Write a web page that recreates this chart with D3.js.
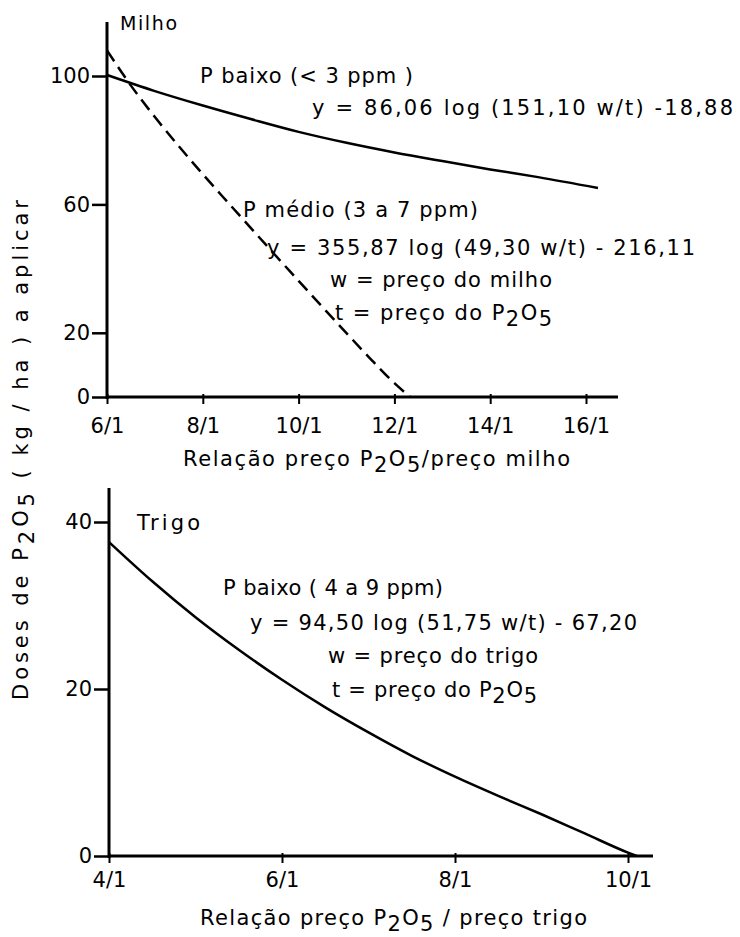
<!DOCTYPE html>
<html>
<head>
<meta charset="utf-8">
<script src="https://cdn.jsdelivr.net/npm/d3@7"></script>
<style>
  body { margin: 0; background: #fff; }
  text { font-family: 'DejaVu Sans', sans-serif; fill: #000; }
</style>
</head>
<body>
<script>
// milho, P baixo (< 3 ppm)
const milhoRatio = [6, 7, 8, 9, 10, 11, 12, 13, 14, 15, 16.25];
const milhoBaixo = [100.3, 95.3, 90.8, 86.6, 82.6, 79.2, 76.2, 73.5, 70.9, 68.5, 65.1];
// milho, P medio (3 a 7 ppm)
const medioRatio = [6, 6.5, 7, 7.5, 8, 8.5, 9, 9.5, 10, 10.5, 11, 11.5, 12, 12.33];
const milhoMedio = [108, 97, 87.2, 78.1, 69.4, 61, 52.7, 44.4, 36.2, 28, 19.9, 11.9, 4.3, 0];
// trigo, P baixo (4 a 9 ppm)
const trigoRatio = [4, 4.5, 5, 5.5, 6, 6.5, 7, 7.5, 8, 8.5, 9, 9.5, 10, 10.1];
const trigoBaixo = [37.6, 32.9, 28.6, 24.7, 21.1, 17.8, 14.8, 12.0, 9.5, 7.2, 5.0, 2.7, 0.4, 0];

const milhoXTicks = [6, 8, 10, 12, 14, 16];
const milhoYTicks = [0, 20, 60, 100];
const trigoXTicks = [4, 6, 8, 10];
const trigoYTicks = [0, 20, 40];

const svg = d3.select('body').append('svg')
  .attr('width', 740)
  .attr('height', 937);

// text with "_2" style subscripts, stretched to the width of the original lettering
function label(g, x, y, str, len, size) {
  const t = g.append('text')
    .attr('x', x).attr('y', y)
    .style('font-size', (size || 21) + 'px');
  if (len) t.attr('textLength', len).attr('lengthAdjust', 'spacing');
  const parts = str.split(/(_\d)/).filter(s => s.length);
  let low = false;
  parts.forEach(p => {
    const sub = p[0] === '_';
    const ts = t.append('tspan').text(sub ? p.slice(1) : p);
    if (sub && !low) { ts.attr('dy', 6); low = true; }
    else if (!sub && low) { ts.attr('dy', -6); low = false; }
  });
  return t;
}

function panel(cfg) {
  const x = d3.scaleLinear().domain(cfg.xDomain).range(cfg.xRange);
  const y = d3.scaleLinear().domain(cfg.yDomain).range(cfg.yRange);
  const g = svg.append('g');

  // axis lines
  g.append('line')
    .attr('x1', cfg.xRange[0]).attr('x2', cfg.xRange[0])
    .attr('y1', cfg.yTop).attr('y2', cfg.yRange[0] + 2)
    .attr('stroke', '#000').attr('stroke-width', 3);
  g.append('line')
    .attr('x1', cfg.xRange[0] - 1).attr('x2', cfg.xEnd)
    .attr('y1', cfg.yRange[0]).attr('y2', cfg.yRange[0])
    .attr('stroke', '#000').attr('stroke-width', 3);

  const xAxis = g.append('g')
    .attr('transform', `translate(0,${cfg.yRange[0]})`)
    .call(d3.axisBottom(x).tickValues(cfg.xTicks).tickSize(7).tickPadding(cfg.xPad)
      .tickFormat(d => d + '/1'));
  xAxis.select('.domain').remove();
  xAxis.selectAll('line').attr('y1', -3).attr('stroke-width', 2);
  xAxis.selectAll('text').style('font-size', '21px').attr('font-family', null);

  const yAxis = g.append('g')
    .attr('transform', `translate(${cfg.xRange[0]},0)`)
    .call(d3.axisLeft(y).tickValues(cfg.yTicks).tickSize(15).tickPadding(2));
  yAxis.select('.domain').remove();
  yAxis.selectAll('line').attr('stroke-width', 2.5);
  yAxis.selectAll('text').style('font-size', '21px').attr('font-family', null);

  const line = d3.line()
    .x(d => x(d[0]))
    .y(d => y(d[1]))
    .curve(d3.curveMonotoneX);

  cfg.series.forEach(s => {
    g.append('path')
      .attr('d', line(d3.zip(s.xs, s.ys)))
      .attr('fill', 'none')
      .attr('stroke', '#000')
      .attr('stroke-width', 2.5)
      .attr('stroke-dasharray', s.dash || null);
  });
  return g;
}

const topPanel = panel({
  xDomain: [6, 16], xRange: [107, 586], xEnd: 618,
  yDomain: [0, 100], yRange: [397, 76], yTop: 22,
  xTicks: milhoXTicks, yTicks: milhoYTicks, xPad: 14,
  series: [
    { xs: milhoRatio, ys: milhoBaixo },
    { xs: medioRatio, ys: milhoMedio, dash: '13,7' }
  ]
});
label(topPanel, 120, 30, 'Milho', 57, 19);
label(topPanel, 200, 83, 'P baixo (< 3 ppm )', 213);
label(topPanel, 312, 115, 'y = 86,06 log (151,10 w/t) -18,88', 421);
label(topPanel, 243, 217, 'P médio (3 a 7 ppm)', 235);
label(topPanel, 267, 255, 'y = 355,87 log (49,30 w/t) - 216,11', 428);
label(topPanel, 330, 287, 'w = preço do milho', 222);
label(topPanel, 335, 320, 't = preço do P_2O_5', 217);
label(topPanel, 183, 466, 'Relação preço P_2O_5/preço milho', 387);

const bottomPanel = panel({
  xDomain: [4, 10], xRange: [109, 628], xEnd: 653,
  yDomain: [0, 40], yRange: [856, 522], yTop: 488,
  xTicks: trigoXTicks, yTicks: trigoYTicks, xPad: 9,
  series: [
    { xs: trigoRatio, ys: trigoBaixo }
  ]
});
label(bottomPanel, 137, 530, 'Trigo', 63);
label(bottomPanel, 223, 595, 'P baixo ( 4 a 9 ppm)', 220);
label(bottomPanel, 250, 630, 'y = 94,50 log (51,75 w/t) - 67,20', 387);
label(bottomPanel, 328, 663, 'w = preço do trigo', 210);
label(bottomPanel, 332, 697, 't = preço do P_2O_5', 205);
label(bottomPanel, 200, 925, 'Relação preço P_2O_5 / preço trigo', 387);

// shared y title
const yTitle = svg.append('g').attr('transform', 'translate(28,450) rotate(-90)');
label(yTitle, -250, 0, 'Doses  de  P_2O_5  ( kg / ha )  a  aplicar', 500, 21);
</script>
</body>
</html>
